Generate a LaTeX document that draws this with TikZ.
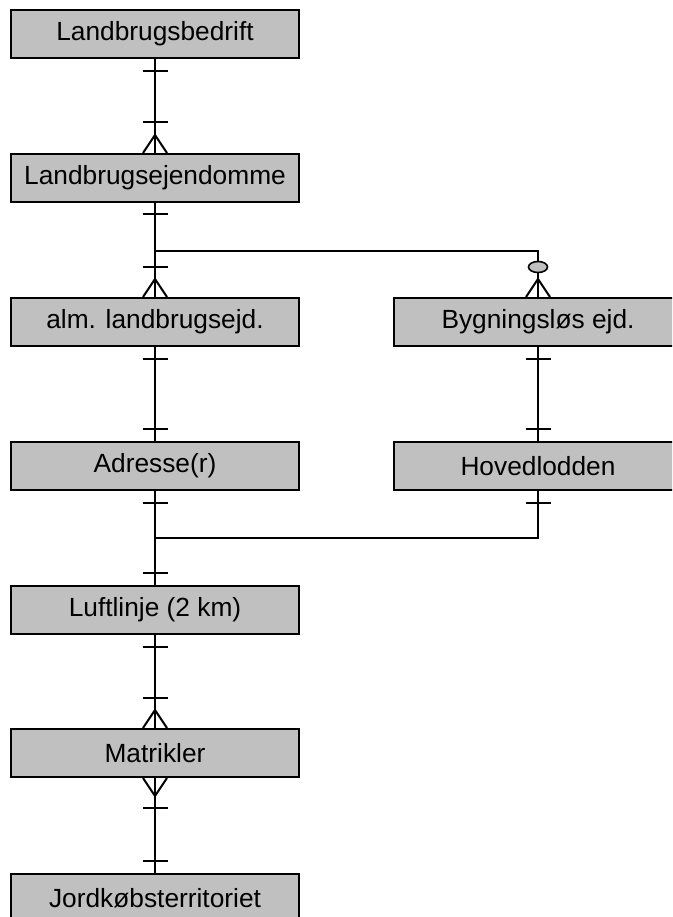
\documentclass[tikz,border=0pt]{standalone}
\usepackage{fontspec}
\setmainfont{Liberation Sans}
\usetikzlibrary{calc,shapes.geometric}

\definecolor{boxgray}{HTML}{C0C0C0}

\tikzset{
  entity/.style={draw=black, fill=boxgray, line width=2pt,
    minimum width=288pt, minimum height=48pt, inner sep=0pt,
    font=\fontsize{26.3}{30}\selectfont},
  link/.style={line width=2pt},
  tickmark/.pic={\draw[link] (-12.5,0) -- (12.5,0);},
  crowup/.pic={\draw[link] (-12,0) -- (0,-18) -- (12,0);},
  crowdown/.pic={\draw[link] (-12,0) -- (0,18) -- (12,0);},
  optional/.style={draw=black, fill=boxgray, line width=1.6pt, ellipse,
    minimum width=19pt, minimum height=11pt, inner sep=0pt}
}

\begin{document}
\begin{tikzpicture}[x=1pt, y=-1pt]
  \useasboundingbox (0,0) rectangle (672,917);
  \clip (0,0) rectangle (672,917);

  % entities
  \node[entity] (b1)  at (155,34)  {Landbrugsbedrift};
  \node[entity] (b2)  at (155,178) {Landbrugsejendomme};
  \node[entity] (b3l) at (155,322) {alm. landbrugsejd.};
  \node[entity] (b3r) at (538,322) {Bygningsløs ejd.};
  \node[entity] (b4l) at (155,466) {Adresse(r)};
  \node[entity] (b4r) at (538,466) {Hovedlodden};
  \node[entity] (b5)  at (155,610) {Luftlinje (2 km)};
  \node[entity] (b6)  at (155,753) {Matrikler};
  \node[entity] (b7)  at (155,898) {Jordkøbsterritoriet};

  % Landbrugsbedrift -- Landbrugsejendomme
  \draw[link] (b1.south) -- (b2.north);
  \pic at ($(b1.south)+(0,12)$) {tickmark};
  \pic at ($(b2.north)+(0,-31)$) {tickmark};
  \pic at (b2.north) {crowup};

  % Landbrugsejendomme -- its two subtypes
  \coordinate (j1) at ($(b2.south)+(0,48)$);
  \draw[link] (b2.south) -- (j1) -- (b3l.north);
  \draw[link] (j1) -| (b3r.north);
  \pic at ($(b2.south)+(0,11)$) {tickmark};
  \pic at ($(b3l.north)+(0,-30)$) {tickmark};
  \pic at (b3l.north) {crowup};
  \pic at (b3r.north) {crowup};
  \node[optional] (opt) at ($(b3r.north)+(0,-30)$) {};

  % subtypes -- address / main parcel
  \draw[link] (b3l.south) -- (b4l.north);
  \pic at ($(b3l.south)+(0,12)$) {tickmark};
  \pic at ($(b4l.north)+(0,-12)$) {tickmark};
  \draw[link] (b3r.south) -- (b4r.north);
  \pic at ($(b3r.south)+(0,12)$) {tickmark};
  \pic at ($(b4r.north)+(0,-12)$) {tickmark};

  % address / main parcel -- Luftlinje
  \coordinate (j2) at ($(b4l.south)+(0,47)$);
  \draw[link] (b4l.south) -- (b5.north);
  \draw[link] (b4r.south) |- (j2);
  \pic at ($(b4l.south)+(0,12)$) {tickmark};
  \pic at ($(b4r.south)+(0,12)$) {tickmark};
  \pic at ($(b5.north)+(0,-12)$) {tickmark};

  % Luftlinje -- Matrikler
  \draw[link] (b5.south) -- (b6.north);
  \pic at ($(b5.south)+(0,12)$) {tickmark};
  \pic at ($(b6.north)+(0,-30)$) {tickmark};
  \pic at (b6.north) {crowup};

  % Matrikler -- Jordkøbsterritoriet
  \draw[link] (b6.south) -- (b7.north);
  \pic at (b6.south) {crowdown};
  \pic at ($(b6.south)+(0,30)$) {tickmark};
  \pic at ($(b7.north)+(0,-12)$) {tickmark};
\end{tikzpicture}
\end{document}
